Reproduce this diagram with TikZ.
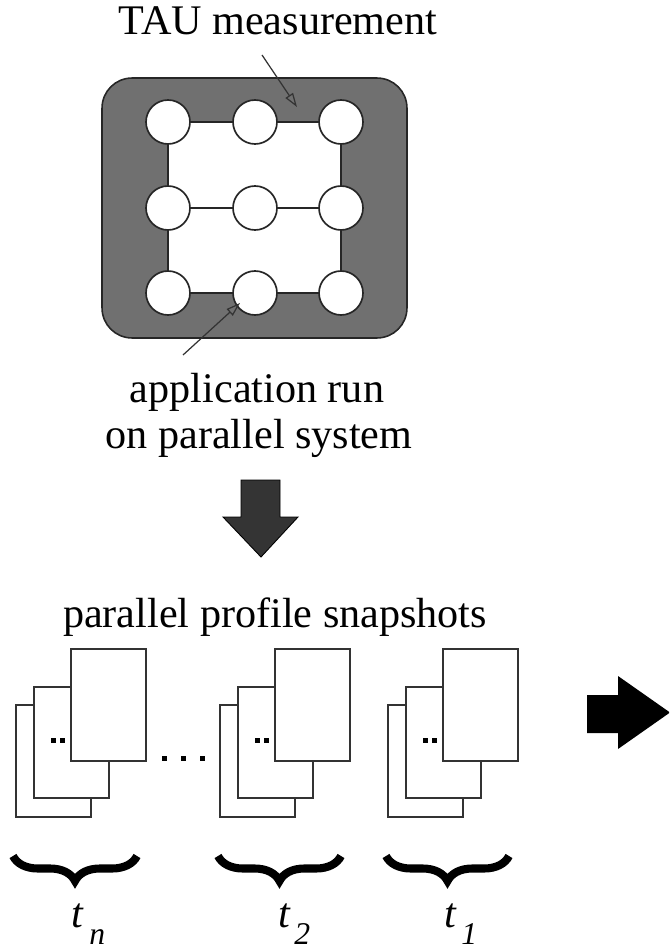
\documentclass[tikz,border=0pt]{standalone}
\usepackage{fontspec}
\setmainfont{Liberation Serif}
\usetikzlibrary{arrows.meta,decorations.pathreplacing}
\definecolor{boxgray}{RGB}{112,112,112}
\definecolor{arrowgray}{RGB}{52,52,52}
\begin{document}
\begin{tikzpicture}[x=0.02cm,y=-0.02cm,
  lbl/.style={font=\fontsize{24}{29}\selectfont, inner sep=0pt, anchor=base},
  circ/.style={circle, draw=black!85, fill=white, line width=0.95pt, minimum size=0.88cm, inner sep=0pt},
  link/.style={draw=black!85, line width=1.2pt},
  page/.style={draw=black!80, fill=white, line width=1.1pt},
  annot/.style={draw=black!80, line width=0.7pt, -{Triangle[open, length=0.28cm, width=0.18cm]}},
  bracestyle/.style={decorate, decoration={brace, amplitude=0.5cm}, line width=4.6pt, black},
  tlbl/.style={font=\fontsize{24}{24}\selectfont\itshape, inner sep=0pt, anchor=base west},
  sublbl/.style={font=\fontsize{18}{18}\selectfont\itshape, inner sep=0pt, anchor=base west},
  dotmark/.style={fill=black, inner sep=0pt, minimum size=0.1cm, rectangle}
]
\useasboundingbox (0,0) rectangle (669,949);
\clip (0,0) rectangle (669,949);

% system box
\node[draw=black!85, fill=boxgray, line width=0.9pt, rounded corners=0.6cm,
      minimum width=6.1cm, minimum height=5.2cm, inner sep=0pt] (sys) at (254.5,208) {};
\fill[white] (168,122) rectangle (341,293);

\node[circ] (c11) at (168,122) {};
\node[circ] (c12) at (255,122) {};
\node[circ] (c13) at (341,122) {};
\node[circ] (c21) at (168,208) {};
\node[circ] (c22) at (255,208) {};
\node[circ] (c23) at (341,208) {};
\node[circ] (c31) at (168,293) {};
\node[circ] (c32) at (255,293) {};
\node[circ] (c33) at (341,293) {};
\draw[link] (c11) -- (c12); \draw[link] (c12) -- (c13);
\draw[link] (c21) -- (c22); \draw[link] (c22) -- (c23);
\draw[link] (c31) -- (c32); \draw[link] (c32) -- (c33);
\draw[link] (c11) -- (c21); \draw[link] (c21) -- (c31);
\draw[link] (c13) -- (c23); \draw[link] (c23) -- (c33);

% labels
\node[lbl] (tau) at (278,35) {TAU measurement};
\node[lbl] (app1) at (257,402) {application run};
\node[lbl] (app2) at (259,448) {on parallel system};
\node[lbl] (snap) at (275,627) {parallel profile snapshots};

% annotation arrows
\coordinate (taufrom) at (262,55);
\coordinate (tauto) at (297,107);
\draw[annot] (taufrom) -- (tauto);
\coordinate (appfrom) at (183,355);
\coordinate (appto) at (240,303);
\draw[annot] (appfrom) -- (appto);

% down arrow
\filldraw[fill=arrowgray, draw=black, line width=0.5pt]
  (241,480) -- (280,480) -- (280,517) -- (298,517) -- (261,557) -- (223,517) -- (241,517) -- cycle;

% right arrow
\fill[black] (587,695) -- (618,695) -- (618,676) -- (670,712.5) -- (618,749) -- (618,733) -- (587,733) -- cycle;

% snapshot groups
\foreach \xa/\nm in {71/n, 275/b, 443/a} {
  \node[page, minimum width=1.5cm, minimum height=2.24cm, inner sep=0pt] (pc\nm) at (\xa-55+37.5, 761) {};
  \node[page, minimum width=1.5cm, minimum height=2.22cm, inner sep=0pt] (pb\nm) at (\xa-37+37.5, 742.5) {};
  \node[page, minimum width=1.5cm, minimum height=2.24cm, inner sep=0pt] (pa\nm) at (\xa+37.5, 705) {};
  \node[dotmark] (d1\nm) at (\xa-18, 740) {};
  \node[dotmark] (d2\nm) at (\xa-9, 740) {};
}
\node[dotmark] (e1) at (164,758) {};
\node[dotmark] (e2) at (183,758) {};
\node[dotmark] (e3) at (202,758) {};

% braces
\draw[bracestyle] (137,856) -- (13,856);
\draw[bracestyle] (341,856) -- (218,856);
\draw[bracestyle] (509,856) -- (386,856);

% time labels
\node[tlbl] (tn) at (71,927) {t};
\node[sublbl] (tnsub) at (89,944) {n};
\node[tlbl] (t2) at (278,927) {t};
\node[sublbl] (t2sub) at (294,944) {2};
\node[tlbl] (t1) at (444,927) {t};
\node[sublbl] (t1sub) at (461,944) {1};
\end{tikzpicture}
\end{document}
